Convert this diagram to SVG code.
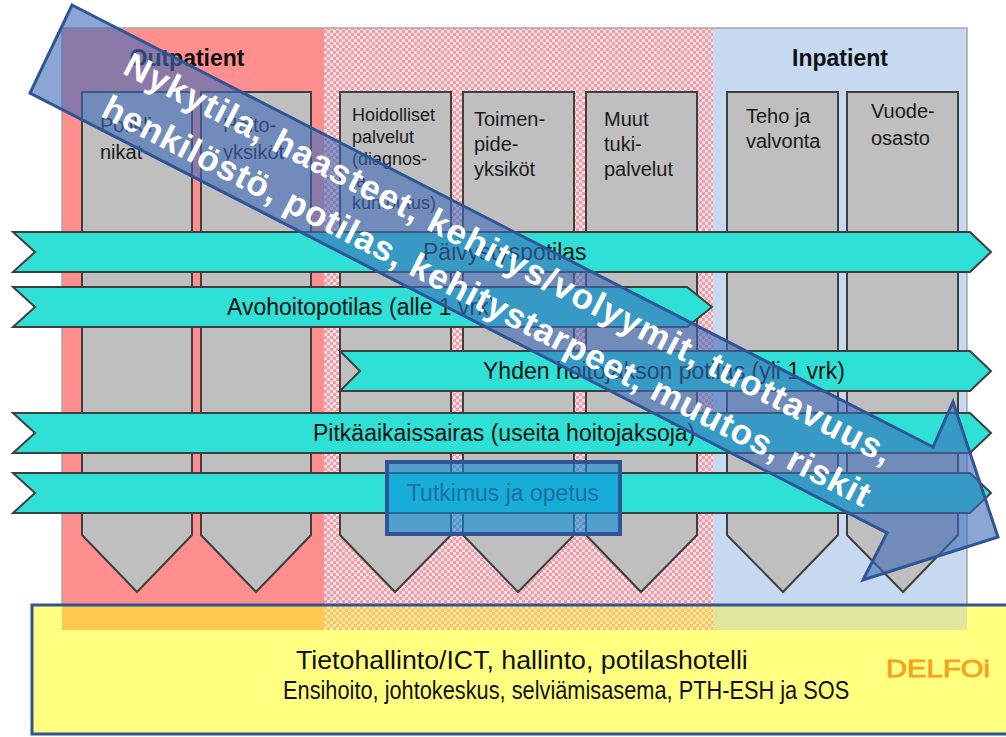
<svg xmlns="http://www.w3.org/2000/svg" width="1006" height="737" viewBox="0 0 1006 737">
<defs>
<pattern id="chk" width="6" height="6" patternUnits="userSpaceOnUse">
<rect width="6" height="6" fill="#fcdfe3"/>
<rect width="3" height="3" fill="#f39ca6"/>
<rect x="3" y="3" width="3" height="3" fill="#f39ca6"/>
</pattern>
<pattern id="chk2" width="6" height="6" patternUnits="userSpaceOnUse">
<rect width="6" height="6" fill="#fde88a"/>
<rect width="3" height="3" fill="#f6c27a"/>
<rect x="3" y="3" width="3" height="3" fill="#f6c27a"/>
</pattern>
</defs>
<style>
.col{fill:#bfbfbf;stroke:#3f3f3f;stroke-width:2}
.ct{font-family:"Liberation Sans",Arial,sans-serif;font-size:20px;fill:#1a1a1a}
.ct3{font-family:"Liberation Sans",Arial,sans-serif;font-size:18px;fill:#1a1a1a}
.hd{font-family:"Liberation Sans",Arial,sans-serif;font-size:23px;font-weight:bold;fill:#111}
.rib{fill:#2ee0d6;stroke:#3f3f3f;stroke-width:2}
.rt{font-family:"Liberation Sans",Arial,sans-serif;font-size:23px;fill:#111}
.bt{font-family:"Liberation Sans",Arial,sans-serif;font-size:25px;fill:#111}
.at{font-family:"Liberation Sans",Arial,sans-serif;font-size:35px;font-weight:bold;fill:#fff}
</style>
<rect width="1006" height="737" fill="#fff"/>

<g id="panel">
<rect x="62" y="28" width="262" height="602" fill="#ff8e8e"/>
<rect x="324" y="28" width="389" height="602" fill="url(#chk)"/>
<rect x="713" y="28" width="254" height="602" fill="#c6d9f1"/>
<rect x="62" y="28" width="905" height="602" fill="none" stroke="#a6a6a6" stroke-width="1.5"/>
<text class="hd" x="187" y="66" text-anchor="middle">Outpatient</text>
<text class="hd" x="840" y="66" text-anchor="middle">Inpatient</text>
</g>

<g id="col-polikli">
<polygon class="col" points="82,92 192,92 192,535 137,592 82,535"/>
<text class="ct" x="100" y="132">Polikli-</text>
<text class="ct" x="100" y="159">nikat</text>
</g>
<g id="col-hoito">
<polygon class="col" points="201,92 311,92 311,535 256,592 201,535"/>
<text class="ct" x="223" y="132">Hoito-</text>
<text class="ct" x="223" y="159">yksiköt</text>
</g>
<g id="col-hoidolliset">
<polygon class="col" points="340,92 451,92 451,535 395,592 340,535"/>
<text class="ct3" x="352" y="121">Hoidolliset</text>
<text class="ct3" x="352" y="143">palvelut</text>
<text class="ct3" x="352" y="165">(diagnos-</text>
<text class="ct3" x="352" y="187">ja</text>
<text class="ct3" x="352" y="209">kuntoutus)</text>
</g>
<g id="col-toimenpide">
<polygon class="col" points="463,92 574,92 574,535 518,592 463,535"/>
<text class="ct" x="474" y="126">Toimen-</text>
<text class="ct" x="474" y="151">pide-</text>
<text class="ct" x="474" y="176">yksiköt</text>
</g>
<g id="col-muut">
<polygon class="col" points="586,92 697,92 697,535 641,592 586,535"/>
<text class="ct" x="604" y="126">Muut</text>
<text class="ct" x="604" y="151">tuki-</text>
<text class="ct" x="604" y="176">palvelut</text>
</g>
<g id="col-teho">
<polygon class="col" points="727,92 838,92 838,535 783,592 727,535"/>
<text class="ct" x="746" y="123">Teho ja</text>
<text class="ct" x="746" y="148">valvonta</text>
</g>
<g id="col-vuode">
<polygon class="col" points="847,92 958,92 958,535 903,592 847,535"/>
<text class="ct" x="871" y="118">Vuode-</text>
<text class="ct" x="871" y="145">osasto</text>
</g>

<g id="flows">
<g id="flow-paivystys">
<polygon class="rib" points="13,232 970,232 991,252 970,272 13,272 35,252"/>
<text class="rt" x="423" y="260">Päivystyspotilas</text>
</g>
<g id="flow-avohoito">
<polygon class="rib" points="13,287 687,287 712,307 687,327 13,327 35,307"/>
<text class="rt" x="227" y="315">Avohoitopotilas (alle 1 vrk)</text>
</g>
<g id="flow-yhden">
<polygon class="rib" points="340,351 970,351 991,371 970,391 340,391 360,371"/>
<text class="rt" x="483" y="379">Yhden hoitojakson potilas (yli 1 vrk)</text>
</g>
<g id="flow-pitkaaikais">
<polygon class="rib" points="13,413 970,413 991,433 970,453 13,453 35,433"/>
<text class="rt" x="313" y="441">Pitkäaikaissairas (useita hoitojaksoja)</text>
</g>
<g id="flow-tutkimus">
<polygon class="rib" points="13,473 970,473 991,493 970,513 13,513 35,493"/>
</g>
</g>

<g id="tutkimus">
<rect x="387" y="462" width="233" height="72" fill="#0a8ad8" fill-opacity="0.6" stroke="#2f5597" stroke-width="4"/>
<text class="rt" x="503" y="501" text-anchor="middle" style="fill:#1b6fa3">Tutkimus ja opetus</text>
</g>

<g id="support">
<rect x="32" y="605" width="990" height="129" fill="#ffff80"/>
<rect x="62" y="605" width="262" height="25" fill="#ffc94f"/>
<rect x="324" y="605" width="389" height="25" fill="url(#chk2)"/>
<rect x="713" y="605" width="254" height="25" fill="#e0e69b"/>
<rect x="32" y="605" width="990" height="129" fill="none" stroke="#2f5597" stroke-width="3"/>
<text class="bt" transform="translate(296,669) scale(1.069,1)">Tietohallinto/ICT, hallinto, potilashotelli</text>
<text class="bt" transform="translate(283,699) scale(0.871,1)">Ensihoito, johtokeskus, selviämisasema, PTH-ESH ja SOS</text>
<text x="886" y="677" font-family="'Liberation Sans',Arial,sans-serif" font-size="24" fill="#f5a21e" stroke="#f5a21e" stroke-width="0.8" textLength="104" lengthAdjust="spacingAndGlyphs">DELFOi</text>
</g>

<g id="big-arrow">
<polygon points="72,5 933,447 953,402 998,537 863,580 887,533 30,93" fill="#3d6ab8" fill-opacity="0.6" stroke="#2f5597" stroke-width="3" stroke-linejoin="miter"/>
<g transform="translate(72,5) rotate(27.17)">
<text class="at" x="75" y="38" textLength="858">Nykytila, haasteet, kehitys/volyymit, tuottavuus,</text>
<text class="at" x="75" y="86" textLength="858">henkilöstö, potilas, kehitystarpeet, muutos, riskit</text>
</g>
</g>
</svg>
